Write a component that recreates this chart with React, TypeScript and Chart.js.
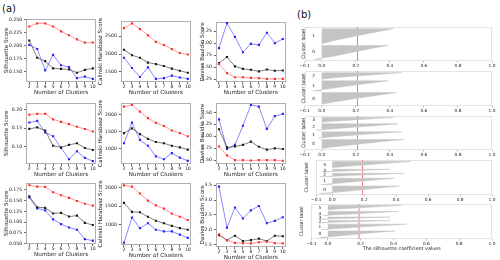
import React, { useEffect, useRef } from "react";
import { Chart, registerables } from "chart.js";
Chart.register(...registerables);

// ---------------- DATA ----------------
const clusters = [2, 3, 4, 5, 6, 7, 8, 9, 10];

// Row 1
const r1SilRed = [0.237, 0.243, 0.243, 0.237, 0.2276, 0.22, 0.212, 0.2058, 0.206];
const r1SilBlack = [0.21, 0.1765, 0.17, 0.156, 0.155, 0.154, 0.1475, 0.153, 0.156];
const r1SilBlue = [0.2015, 0.1935, 0.152, 0.182, 0.162, 0.1585, 0.137, 0.14, 0.1355];
const r1ChRed = [2721, 2855, 2695, 2519, 2340, 2252, 2135, 2028, 1985];
const r1ChBlack = [2119, 1967, 1895, 1761, 1719, 1665, 1593, 1532, 1479];
const r1ChBlue = [1895, 1612, 1361, 1628, 1308, 1327, 1399, 1345, 1308];
const r1DbRed = [1.564, 1.376, 1.29, 1.29, 1.276, 1.27, 1.256, 1.256, 1.256];
const r1DbBlack = [1.584, 1.71, 1.516, 1.464, 1.444, 1.41, 1.45, 1.424, 1.43];
const r1DbBlue = [1.896, 2.416, 2.13, 1.81, 1.984, 1.964, 2.216, 2.0, 2.084];

// Row 2
const r2SilRed = [0.187, 0.1888, 0.1888, 0.174, 0.1673, 0.1612, 0.1543, 0.148, 0.1414];
const r2SilBlack = [0.1483, 0.1526, 0.144, 0.1027, 0.0984, 0.1053, 0.1096, 0.0967, 0.0915];
const r2SilBlue = [0.1655, 0.1699, 0.1388, 0.1285, 0.0967, 0.0665, 0.088, 0.07, 0.0613];
const r2ChRed = [2231, 2278, 2083, 1897, 1758, 1667, 1536, 1461, 1369];
const r2ChBlack = [1461, 1600, 1433, 1294, 1203, 1167, 1092, 1046, 981];
const r2ChBlue = [1167, 1767, 1264, 1092, 786, 703, 878, 750, 656];
const r2DbRed = [1.787, 1.6, 1.5, 1.5, 1.493, 1.5, 1.5, 1.5, 1.487];
const r2DbBlack = [2.147, 1.767, 1.787, 1.82, 1.887, 1.78, 1.72, 1.747, 1.733];
const r2DbBlue = [2.353, 1.733, 1.82, 2.22, 2.653, 2.62, 2.153, 2.42, 2.467];

// Row 3
const r3SilRed = [0.1851, 0.1822, 0.1815, 0.1692, 0.162, 0.1562, 0.149, 0.1425, 0.1381];
const r3SilBlack = [0.1598, 0.1345, 0.1331, 0.1201, 0.1215, 0.1129, 0.115, 0.0984, 0.0934];
const r3SilBlue = [0.1569, 0.1316, 0.1273, 0.1064, 0.0955, 0.0876, 0.0825, 0.0608, 0.0572];
const r3ChRed = [2061, 2026, 1843, 1652, 1522, 1435, 1304, 1217, 1130];
const r3ChBlack = [1591, 1348, 1339, 1217, 1113, 1043, 974, 913, 870];
const r3ChBlue = [522, 1200, 913, 1043, 870, 826, 826, 739, 652];
const r3DbRed = [1.85, 1.65, 1.56, 1.55, 1.54, 1.58, 1.6, 1.55, 1.54];
const r3DbBlack = [1.82, 1.65, 1.8, 1.62, 1.65, 1.7, 1.62, 1.8, 1.78];
const r3DbBlue = [3.45, 2.07, 2.75, 2.38, 2.65, 2.8, 2.22, 2.3, 2.42];

// Tick values / labels
const r1SilTicks = [0.15, 0.175, 0.2, 0.225, 0.25];
const r1SilLabels = ["0.150", "0.175", "0.200", "0.225", "0.250"];
const r1ChTicks = [1500, 2000, 2500];
const r1ChLabels = ["1500", "2000", "2500"];
const r1DbTicks = [1.25, 1.5, 1.75, 2.0, 2.25];
const r1DbLabels = ["1.25", "1.50", "1.75", "2.00", "2.25"];
const r2SilTicks = [0.1, 0.15, 0.2];
const r2SilLabels = ["0.10", "0.15", "0.20"];
const r2ChTicks = [1000, 1500, 2000];
const r2ChLabels = ["1000", "1500", "2000"];
const r2DbTicks = [1.5, 1.75, 2.0, 2.25, 2.5];
const r2DbLabels = ["1.50", "1.75", "2.00", "2.25", "2.50"];
const r3SilTicks = [0.05, 0.075, 0.1, 0.125, 0.15, 0.175];
const r3SilLabels = ["0.050", "0.075", "0.100", "0.125", "0.150", "0.175"];
const r3ChTicks = [1000, 1500, 2000];
const r3ChLabels = ["1000", "1500", "2000"];
const r3DbTicks = [1.5, 2.0, 2.5, 3.0, 3.5];
const r3DbLabels = ["1.5", "2.0", "2.5", "3.0", "3.5"];

// Silhouette plots (b): cluster sizes (bottom cluster first) and sorted profiles (top -> bottom)
const silK2Sizes = [80, 86];
const silK2Profiles = [
  [0.39, 0.3, 0.22, 0.14, 0.06, -0.04],
  [0.42, 0.33, 0.24, 0.15, 0.07, 0.0],
];
const silK2Mean = 0.21;
const silK3Sizes = [69, 59, 38];
const silK3Profiles = [
  [0.44, 0.34, 0.25, 0.16, 0.07, 0.0],
  [0.39, 0.3, 0.21, 0.12, 0.04, -0.05],
  [0.47, 0.36, 0.26, 0.16, 0.07, 0.0],
];
const silK3Mean = 0.21;
const silK4Sizes = [56, 40, 40, 30];
const silK4Profiles = [
  [0.48, 0.37, 0.27, 0.17, 0.08, 0.0],
  [0.47, 0.36, 0.26, 0.16, 0.07, -0.02],
  [0.45, 0.35, 0.25, 0.15, 0.06, -0.03],
  [0.42, 0.32, 0.23, 0.14, 0.06, 0.0],
];
const silK4Mean = 0.21;
const silK5Sizes = [48, 40, 22, 16, 40];
const silK5Profiles = [
  [0.42, 0.32, 0.23, 0.14, 0.05, -0.08],
  [0.39, 0.3, 0.21, 0.12, 0.04, -0.07],
  [0.45, 0.34, 0.24, 0.14, 0.05, -0.08],
  [0.36, 0.27, 0.19, 0.11, 0.04, -0.06],
  [0.49, 0.38, 0.28, 0.18, 0.08, 0.0],
];
const silK5Mean = 0.19;
const silK6Sizes = [44, 36, 14, 14, 28, 30];
const silK6Profiles = [
  [0.41, 0.31, 0.22, 0.13, 0.05, -0.05],
  [0.48, 0.37, 0.27, 0.17, 0.07, -0.04],
  [0.38, 0.29, 0.2, 0.12, 0.04, -0.05],
  [0.38, 0.29, 0.2, 0.12, 0.04, -0.05],
  [0.43, 0.33, 0.24, 0.15, 0.06, -0.03],
  [0.45, 0.35, 0.25, 0.15, 0.06, 0.0],
];
const silK6Mean = 0.19;
const silXTicks = [-0.1, 0, 0.2, 0.4, 0.6, 0.8, 1.0];
const silXLabels = ["\u22120.1", "0.0", "0.2", "0.4", "0.6", "0.8", "1.0"];

// ---------------- STYLE / LAYOUT ----------------
const FONT = "'DejaVu Sans', sans-serif";
const TXT = "#222";
const TICK_FS = 4.6;
const TITLE_FS = 5.6;
const SIL_TICK_FS = 4.3;
const SIL_TITLE_FS = 4.8;
const SERIES_STYLE = [
  { line: "rgba(255,70,70,0.55)", point: "#ff2b2b" },
  { line: "rgba(40,40,40,0.6)", point: "#1a1a1a" },
  { line: "rgba(60,60,255,0.6)", point: "#2222ff" },
];

const framePlugin = {
  id: "frame",
  beforeDatasetsDraw(chart: any, _a: any, opts: any) {
    const { ctx, chartArea: a } = chart;
    ctx.save();
    ctx.strokeStyle = opts.color || "#bbb";
    ctx.lineWidth = 1;
    ctx.strokeRect(Math.round(a.left) + 0.5, Math.round(a.top) + 0.5, Math.round(a.right - a.left) - 1, Math.round(a.bottom - a.top) - 1);
    ctx.restore();
  },
};

type LinePanel = {
  series: number[][];
  ticks: number[];
  labels: string[];
  min: number;
  max: number;
  title: string;
  left: number;
  plotL: number;
  plotR: number;
  plotT: number;
  plotB: number;
};

const COLS = [
  { left: 2.9, plotL: 26, plotR: 96 },
  { left: 97.2, plotL: 121, plotR: 191 },
  { left: 198.7, plotL: 215.5, plotR: 286 },
];

const linePanels: LinePanel[] = [
  { series: [r1SilRed, r1SilBlack, r1SilBlue], ticks: r1SilTicks, labels: r1SilLabels, min: 0.1295, max: 0.252, title: "Silhouette Score", ...COLS[0], plotT: 16, plotB: 82 },
  { series: [r1ChRed, r1ChBlack, r1ChBlue], ticks: r1ChTicks, labels: r1ChLabels, min: 1220, max: 2927, title: "Calinski Harabasz Score", ...COLS[1], plotT: 18, plotB: 82 },
  { series: [r1DbRed, r1DbBlack, r1DbBlue], ticks: r1DbTicks, labels: r1DbLabels, min: 1.19, max: 2.444, title: "Davies Bouldin Score", ...COLS[2], plotT: 19, plotB: 82 },
  { series: [r2SilRed, r2SilBlack, r2SilBlue], ticks: r2SilTicks, labels: r2SilLabels, min: 0.0535, max: 0.219, title: "Silhouette Score", ...COLS[0], plotT: 100, plotB: 164 },
  { series: [r2ChRed, r2ChBlack, r2ChBlue], ticks: r2ChTicks, labels: r2ChLabels, min: 564, max: 2342, title: "Calinski Harabasz Score", ...COLS[1], plotT: 100, plotB: 164 },
  { series: [r2DbRed, r2DbBlack, r2DbBlue], ticks: r2DbTicks, labels: r2DbLabels, min: 1.42, max: 2.7, title: "Davies Bouldin Score", ...COLS[2], plotT: 100, plotB: 164 },
  { series: [r3SilRed, r3SilBlack, r3SilBlue], ticks: r3SilTicks, labels: r3SilLabels, min: 0.0495, max: 0.191, title: "Silhouette Score", ...COLS[0], plotT: 180, plotB: 244 },
  { series: [r3ChRed, r3ChBlack, r3ChBlue], ticks: r3ChTicks, labels: r3ChLabels, min: 461, max: 2130, title: "Calinski Harabasz Score", ...COLS[1], plotT: 180, plotB: 245 },
  { series: [r3DbRed, r3DbBlack, r3DbBlue], ticks: r3DbTicks, labels: r3DbLabels, min: 1.42, max: 3.58, title: "Davies Bouldin Score", ...COLS[2], plotT: 180, plotB: 247 },
];

const PAD_T = 2;
const PAD_R = 4;
const X_H = 15;

function LineSub({ p }: { p: LinePanel }) {
  const ref = useRef<HTMLCanvasElement>(null);
  const width = Math.round(p.plotR + PAD_R - p.left);
  const height = Math.round(PAD_T + (p.plotB - p.plotT) + X_H);
  useEffect(() => {
    const tickFont = { family: FONT, size: TICK_FS };
    const titleFont = { family: FONT, size: TITLE_FS };
    const chart = new Chart(ref.current as HTMLCanvasElement, {
      type: "line",
      data: {
        datasets: p.series.map((vals, si) => ({
          data: clusters.map((k, i) => ({ x: k, y: vals[i] })),
          borderColor: SERIES_STYLE[si].line,
          backgroundColor: SERIES_STYLE[si].point,
          pointBackgroundColor: SERIES_STYLE[si].point,
          pointBorderColor: SERIES_STYLE[si].point,
          pointBorderWidth: 0,
          pointStyle: "rect",
          pointRadius: 1.5,
          borderWidth: 1,
          tension: 0,
          fill: false,
        })),
      },
      options: {
        animation: false,
        responsive: false,
        events: [],
        layout: { padding: { top: PAD_T, right: PAD_R, left: 0, bottom: 0 } },
        plugins: { legend: { display: false }, tooltip: { enabled: false }, frame: { color: "#b0b0b0" } } as any,
        scales: {
          x: {
            type: "linear",
            min: 1.6,
            max: 10.4,
            afterBuildTicks: (s: any) => {
              s.ticks = clusters.map((v) => ({ value: v }));
            },
            ticks: { font: tickFont, color: TXT, padding: 0.5, maxRotation: 0, autoSkip: false, callback: (v: any) => String(v) },
            grid: { display: true, drawOnChartArea: false, tickLength: 2, color: "#666" },
            border: { display: false },
            title: { display: true, text: "Number of Clusters", font: titleFont, color: TXT, padding: { top: 0, bottom: 0.7 } },
            afterFit: (s: any) => {
              s.height = X_H;
            },
          },
          y: {
            type: "linear",
            min: p.min,
            max: p.max,
            afterBuildTicks: (s: any) => {
              s.ticks = p.ticks.map((v) => ({ value: v }));
            },
            ticks: {
              font: tickFont,
              color: TXT,
              padding: 2,
              autoSkip: false,
              callback: (v: any) => {
                const idx = p.ticks.findIndex((t) => Math.abs(t - v) < 1e-9);
                return idx >= 0 ? p.labels[idx] : "";
              },
            },
            grid: { display: true, drawOnChartArea: false, tickLength: 2, color: "#666" },
            border: { display: false },
            title: { display: true, text: p.title, font: titleFont, color: TXT, padding: { top: 0.5, bottom: 0 } },
            afterFit: (s: any) => {
              s.width = p.plotL - p.left;
            },
          },
        },
      } as any,
      plugins: [framePlugin as any],
    });
    return () => chart.destroy();
  }, []);
  return (
    <canvas
      ref={ref}
      width={width}
      height={height}
      style={{ position: "absolute", left: p.left, top: p.plotT - PAD_T, width, height }}
    />
  );
}

type SilPanel = {
  sizes: number[];
  profiles: number[][];
  mean: number;
  left: number;
  plotL: number;
  plotT: number;
  plotB: number;
  showTitle: boolean;
};

const SIL_GAP = 10;
const SIL_R = 492;
const silPanels: SilPanel[] = [
  { sizes: silK2Sizes, profiles: silK2Profiles, mean: silK2Mean, left: 298.7, plotL: 303, plotT: 27, plotB: 61, showTitle: false },
  { sizes: silK3Sizes, profiles: silK3Profiles, mean: silK3Mean, left: 298.7, plotL: 303, plotT: 71, plotB: 106, showTitle: false },
  { sizes: silK4Sizes, profiles: silK4Profiles, mean: silK4Mean, left: 298.7, plotL: 303, plotT: 116, plotB: 150, showTitle: false },
  { sizes: silK5Sizes, profiles: silK5Profiles, mean: silK5Mean, left: 302.7, plotL: 316, plotT: 160, plotB: 195, showTitle: false },
  { sizes: silK6Sizes, profiles: silK6Profiles, mean: silK6Mean, left: 298.2, plotL: 311.6, plotT: 204, plotB: 239, showTitle: true },
];

const clusterLabelPlugin = {
  id: "clusterLabels",
  afterDatasetsDraw(chart: any, _a: any, opts: any) {
    const { ctx, scales } = chart;
    ctx.save();
    ctx.font = `${SIL_TICK_FS}px ${FONT}`;
    ctx.fillStyle = TXT;
    ctx.textAlign = "left";
    ctx.textBaseline = "middle";
    (opts.items || []).forEach((it: any) => {
      ctx.fillText(it.text, scales.x.getPixelForValue(-0.05) - 1, scales.y.getPixelForValue(it.y));
    });
    ctx.restore();
  },
};

function SilSub({ p }: { p: SilPanel }) {
  const ref = useRef<HTMLCanvasElement>(null);
  const PT = 2;
  const PR = 6;
  const XH = p.showTitle ? 13 : 9;
  const width = Math.round(SIL_R + PR - p.left);
  const height = Math.round(PT + (p.plotB - p.plotT) + XH);
  useEffect(() => {
    const tickFont = { family: FONT, size: SIL_TICK_FS };
    const titleFont = { family: FONT, size: SIL_TITLE_FS };
    const datasets: any[] = [];
    const labels: any[] = [];
    let yLower = SIL_GAP;
    p.sizes.forEach((size, ci) => {
      const prof = p.profiles[ci];
      const top = yLower + size;
      const pts: any[] = [{ x: 0, y: top }];
      prof.forEach((v, j) => {
        pts.push({ x: v, y: top - (j * size) / (prof.length - 1) });
      });
      pts.push({ x: 0, y: yLower });
      datasets.push({
        data: pts,
        showLine: true,
        fill: "shape",
        backgroundColor: "#c4c4c4",
        borderColor: "#c4c4c4",
        borderWidth: 0.5,
        pointRadius: 0,
        tension: 0,
      });
      labels.push({ text: String(ci), y: yLower + size / 2 });
      yLower = top + SIL_GAP;
    });
    const yMax = yLower;
    datasets.push({
      data: [
        { x: p.mean, y: 0 },
        { x: p.mean, y: yMax },
      ],
      showLine: true,
      fill: false,
      borderColor: "rgba(255,90,90,0.85)",
      borderWidth: 1,
      pointRadius: 0,
    });
    const chart = new Chart(ref.current as HTMLCanvasElement, {
      type: "scatter",
      data: { datasets },
      options: {
        animation: false,
        responsive: false,
        events: [],
        layout: { padding: { top: PT, right: PR, left: 0, bottom: 0 } },
        plugins: { legend: { display: false }, tooltip: { enabled: false }, frame: { color: "#e3e3e3" }, clusterLabels: { items: labels } } as any,
        scales: {
          x: {
            type: "linear",
            min: -0.1,
            max: 1.0,
            afterBuildTicks: (s: any) => {
              s.ticks = silXTicks.map((v) => ({ value: v }));
            },
            ticks: {
              font: tickFont,
              color: TXT,
              padding: 0.5,
              maxRotation: 0,
              autoSkip: false,
              callback: (v: any) => {
                const idx = silXTicks.findIndex((t) => Math.abs(t - v) < 1e-9);
                return idx >= 0 ? silXLabels[idx] : "";
              },
            },
            grid: { display: true, drawOnChartArea: false, tickLength: 1.5, color: "#bbb" },
            border: { display: false },
            title: { display: p.showTitle, text: "The silhouette coefficient values", font: titleFont, color: TXT, padding: { top: 0, bottom: 0.5 } },
            afterFit: (s: any) => {
              s.height = XH;
            },
          },
          y: {
            type: "linear",
            min: 0,
            max: yMax,
            ticks: { display: false },
            grid: { display: false },
            border: { display: false },
            title: { display: true, text: "Cluster label", font: titleFont, color: TXT, padding: { top: 0.5, bottom: 0 } },
            afterFit: (s: any) => {
              s.width = p.plotL - p.left;
            },
          },
        },
      } as any,
      plugins: [framePlugin as any, clusterLabelPlugin as any],
    });
    return () => chart.destroy();
  }, []);
  return (
    <canvas
      ref={ref}
      width={width}
      height={height}
      style={{ position: "absolute", left: p.left, top: p.plotT - PT, width, height }}
    />
  );
}

export default function App() {
  return (
    <div style={{ position: "fixed", left: 0, top: 0, width: 500, height: 260, background: "#fff", overflow: "hidden" }}>
      <div style={{ position: "absolute", left: 2, top: 3, fontFamily: FONT, fontSize: 10, color: "#111" }}>(a)</div>
      <div style={{ position: "absolute", left: 297, top: 9, fontFamily: FONT, fontSize: 10, color: "#111" }}>(b)</div>
      {linePanels.map((p, i) => (
        <LineSub key={"l" + i} p={p} />
      ))}
      {silPanels.map((p, i) => (
        <SilSub key={"s" + i} p={p} />
      ))}
    </div>
  );
}
